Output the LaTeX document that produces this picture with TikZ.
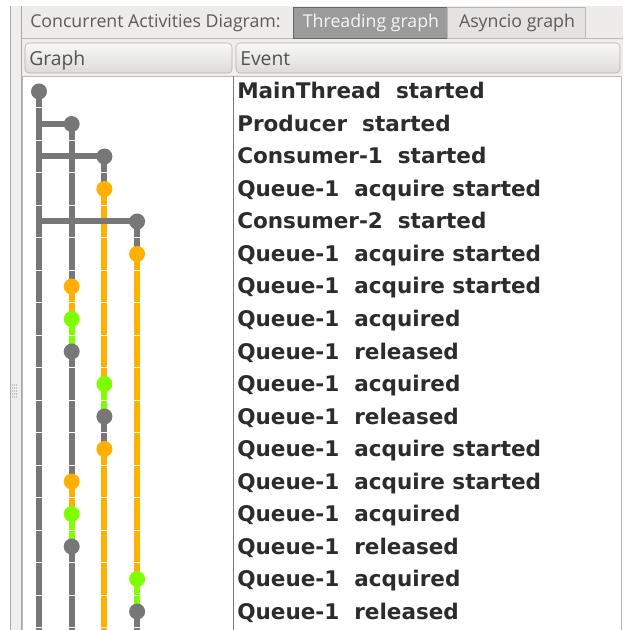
\documentclass[tikz,border=0pt]{standalone}
\usepackage{fontspec}
\setmainfont{DejaVu Sans}
\newfontfamily\evfont{DejaVu Sans}
\newfontfamily\uifont{Open Sans}
\definecolor{lanegray}{HTML}{777777}
\definecolor{laneorange}{HTML}{FFB000}
\definecolor{lanegreen}{HTML}{80FF00}
\definecolor{panelbg}{HTML}{EFEEED}
\definecolor{tabbar}{HTML}{EDECEB}
\definecolor{tabsel}{HTML}{9B9B9B}
\definecolor{tabplain}{HTML}{E4E3E2}
\definecolor{tabline}{HTML}{B8B8B8}
\definecolor{splitline}{HTML}{A9A9A9}
\definecolor{hdrtop}{HTML}{F8F8F7}
\definecolor{hdrbot}{HTML}{DCDBDA}
\definecolor{hdrline}{HTML}{B0AFAE}
\definecolor{uitext}{HTML}{5B5B5B}
\definecolor{evtext}{HTML}{2C2C2C}
\definecolor{sepline}{HTML}{7A7A7A}
\begin{document}
\begin{tikzpicture}[x=0.75pt, y=-0.75pt, line join=round,
	dot/.style={circle, inner sep=0pt, minimum size=12pt},
	lane/.style={line width=4.5pt},
	ev/.style={anchor=base west, inner sep=0pt, text=evtext, font=\evfont\bfseries\fontsize{16.15}{19}\selectfont},
	ui/.style={anchor=base, inner sep=0pt, font=\uifont\fontsize{13.3}{15}\selectfont},
	hdrtxt/.style={anchor=base west, inner sep=0pt, text=uitext!90!black, font=\uifont\fontsize{14.5}{17}\selectfont},
	hdr/.style={rounded corners=3pt, draw=hdrline, top color=hdrtop, bottom color=hdrbot}]
	\useasboundingbox (0,0) rectangle (623,630);
	\fill[white] (0,0) rectangle (623,630);
	
	\fill[panelbg] (10,6) rectangle (22,630);
	\draw[splitline] (10.5,6) -- (10.5,630);
	\draw[splitline] (21.5,6) -- (21.5,630);
	\foreach \i in {0,...,4} {
		\foreach \j in {0,1,2} {
			\fill[gray!80] ({12.5+2*\j},{385+3*\i}) circle (0.45pt);
		}
	}
	
	\fill[tabbar] (22,6) rectangle (623,38);
	\draw[tabline] (22,38.5) -- (623,38.5);
	\node[ui, anchor=base west, text=uitext] (title) at (30,28) {Concurrent Activities Diagram:};
	\filldraw[fill=tabsel, draw=gray!80!black] (293,7) rectangle (447,38);
	\node[ui, text=white!96!black] (tab1) at (371,28) {Threading graph};
	\filldraw[fill=tabplain, draw=tabline] (447,7) rectangle (585.5,38);
	\node[ui, text=uitext] (tab2) at (517,28) {Asyncio graph};
	
	\fill[panelbg] (22,39) rectangle (623,76);
	\draw[hdr] (25,43) rectangle (232,73);
	\draw[hdr] (236,43) rectangle (620,73);
	\node[hdrtxt] (hgraph) at (29,66) {Graph};
	\node[hdrtxt] (hevent) at (240,66) {Event};
	
	\filldraw[fill=white, draw=tabline] (22.5,76.5) rectangle (621.5,640);
	\draw[sepline] (233.5,76.5) -- (233.5,630);
	
	\coordinate (bot) at (0,632);
	\foreach \r/\l/\c/\txt in {
		0/0/lanegray/MainThread~~started,
		1/1/lanegray/Producer~~started,
		2/2/lanegray/Consumer-1~~started,
		3/2/laneorange/Queue-1~~acquire started,
		4/3/lanegray/Consumer-2~~started,
		5/3/laneorange/Queue-1~~acquire started,
		6/1/laneorange/Queue-1~~acquire started,
		7/1/lanegreen/Queue-1~~acquired,
		8/1/lanegray/Queue-1~~released,
		9/2/lanegreen/Queue-1~~acquired,
		10/2/lanegray/Queue-1~~released,
		11/2/laneorange/Queue-1~~acquire started,
		12/1/laneorange/Queue-1~~acquire started,
		13/1/lanegreen/Queue-1~~acquired,
		14/1/lanegray/Queue-1~~released,
		15/3/lanegreen/Queue-1~~acquired,
		16/3/lanegray/Queue-1~~released} {
		\coordinate (p\r) at ({39+32.7*\l},{91.5+32.5*\r});
		\node[ev] (e\r) at (237,{99+32.5*\r}) {\txt};
	}
	\coordinate (t0) at (p0 |- bot);
	\coordinate (t1) at (p1 |- bot);
	\coordinate (t2) at (p2 |- bot);
	\coordinate (t3) at (p4 |- bot);
	
	\foreach \a/\b/\c in {p0/t0/lanegray,
		p1/p6/lanegray, p6/p7/laneorange, p7/p8/lanegreen, p8/p12/lanegray,
		p12/p13/laneorange, p13/p14/lanegreen, p14/t1/lanegray,
		p2/p3/lanegray, p3/p9/laneorange, p9/p10/lanegreen, p10/p11/lanegray, p11/t2/laneorange,
		p4/p5/lanegray, p5/p15/laneorange, p15/p16/lanegreen, p16/t3/lanegray} {
		\draw[lane, \c] (\a) -- (\b);
	}
	\foreach \r in {1,2,4} {
		\draw[lane, lanegray] (p0 |- p\r) -- (p\r);
	}
	\foreach \k in {1,...,17} {
		\draw[white, line width=0.8pt] (23,{75.25+32.5*\k}) -- (233,{75.25+32.5*\k});
	}
	
	\foreach \r/\c in {0/lanegray, 1/lanegray, 2/lanegray, 3/laneorange, 4/lanegray,
		5/laneorange, 6/laneorange, 7/lanegreen, 8/lanegray, 9/lanegreen, 10/lanegray,
		11/laneorange, 12/laneorange, 13/lanegreen, 14/lanegray, 15/lanegreen, 16/lanegray} {
		\node[dot, fill=\c] (d\r) at (p\r) {};
	}
\end{tikzpicture}
\end{document}
